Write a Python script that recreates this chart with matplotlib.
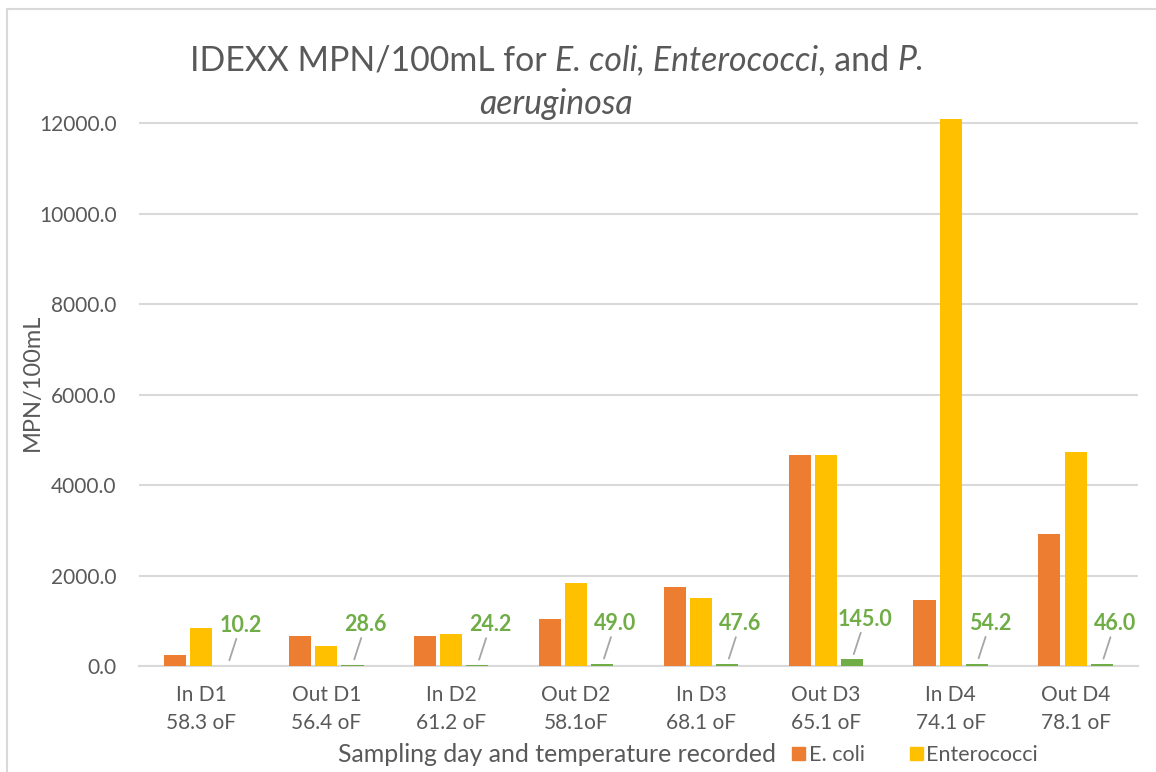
import numpy as np
import matplotlib.pyplot as plt
from matplotlib.patches import Rectangle, Patch

plt.rcParams['font.family'] = ['Lato', 'DejaVu Sans']

# sampling points (site, day) with the air temperature recorded
categories = ['In D1\n58.3 oF', 'Out D1\n56.4 oF', 'In D2\n61.2 oF', 'Out D2\n58.1oF',
              'In D3\n68.1 oF', 'Out D3\n65.1 oF', 'In D4\n74.1 oF', 'Out D4\n78.1 oF']

# MPN/100mL
ecoli = [240, 665, 670, 1040, 1745, 4660, 1455, 2915]
enterococci = [840, 440, 705, 1835, 1505, 4660, 12098, 4730]
paeruginosa = [10.2, 28.6, 24.2, 49.0, 47.6, 145.0, 54.2, 46.0]

c_ecoli = '#ED7D31'
c_entero = '#FFC000'
c_pa = '#70AD47'
grey_txt = '#595959'
grid_col = '#D9D9D9'

fig = plt.figure(figsize=(11.56, 7.72), dpi=100)
ax = fig.add_axes([139 / 1156, 1 - 666 / 772, 999 / 1156, 552 / 772])

x = np.arange(len(categories))
w = 0.177
step = 0.21
ax.bar(x - step, ecoli, w, color=c_ecoli, zorder=3)
ax.bar(x, enterococci, w, color=c_entero, zorder=3)
ax.bar(x + step, paeruginosa, w, color=c_pa, zorder=3)

# green data labels with leader lines
for xi, v in zip(x, paeruginosa):
    ax.annotate(f'{v:.1f}', xy=(xi + step, v), xytext=(13, 40),
                textcoords='offset pixels', ha='center', va='center',
                color=c_pa, fontsize=15.5, fontweight='bold', zorder=5,
                arrowprops=dict(arrowstyle='-', color='#A6A6A6', lw=1.3,
                                shrinkA=0, shrinkB=4))

ax.set_xlim(-0.5, len(categories) - 0.5)
ax.set_ylim(0, 12200)
ax.set_yticks(np.arange(0, 12001, 2000))
ax.set_yticklabels([f'{t:.1f}' for t in np.arange(0, 12001, 2000)])
ax.set_xticks(x)
ax.set_xticklabels(categories, linespacing=1.45)
ax.tick_params(axis='both', length=0, labelsize=15, labelcolor=grey_txt)
ax.tick_params(axis='x', pad=14)
ax.tick_params(axis='y', pad=16)
ax.grid(axis='y', color=grid_col, lw=1.5, zorder=0)
for s in ['top', 'right', 'left']:
    ax.spines[s].set_visible(False)
ax.spines['bottom'].set_color(grid_col)
ax.spines['bottom'].set_linewidth(1.5)

fig.text(32 / 1156, 1 - 382 / 772, 'MPN/100mL', rotation=90, fontsize=17,
         color=grey_txt, ha='center', va='center')
fig.text(338 / 1156, 1 - 755 / 772, 'Sampling day and temperature recorded',
         fontsize=17.9, color=grey_txt, ha='left', va='center')

fig.legend(handles=[Patch(color=c_ecoli, label='E. coli'),
                    Patch(color=c_entero, label='Enterococci')],
           loc='center left', bbox_to_anchor=(773 / 1156, 1 - 755 / 772),
           ncol=2, frameon=False, fontsize=15.5, labelcolor=grey_txt,
           handlelength=0.6, handleheight=0.6, handletextpad=0.15,
           columnspacing=2.1)

# chart frame
fig.patches.append(Rectangle((7 / 1156, -0.1), 1.2, 1 - 9 / 772 + 0.1,
                             transform=fig.transFigure, fill=False,
                             edgecolor=grid_col, lw=1.5))

# title with italic organism names
fig.canvas.draw()
renderer = fig.canvas.get_renderer()
parts = [('IDEXX MPN/100mL for ', 'normal'), ('E. coli, Enterococci', 'italic'),
         (', and ', 'normal'), ('P.', 'italic')]
tsize = 24.4
pieces = []
for txt, style in parts:
    t = fig.text(0, 1 - 60 / 772, txt, fontsize=tsize, style=style,
                 color=grey_txt, va='center', ha='left')
    pieces.append(t)
widths = [p.get_window_extent(renderer).width for p in pieces]
total = sum(widths)
xpos = 557 - total / 2
for p, wd in zip(pieces, widths):
    p.set_x(xpos / 1156)
    xpos += wd
fig.text(556 / 1156, 1 - 104 / 772, 'aeruginosa', fontsize=tsize, style='italic',
         color=grey_txt, ha='center', va='center')

fig.savefig('out.png', dpi=100)
